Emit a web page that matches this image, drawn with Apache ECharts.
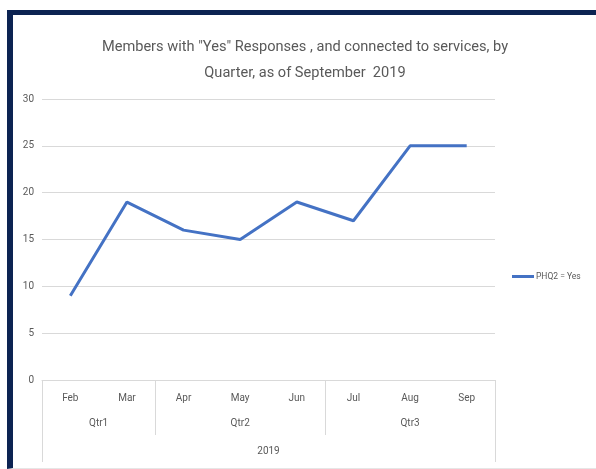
<!DOCTYPE html>
<html><head><meta charset="utf-8">
<script src="https://cdn.jsdelivr.net/npm/echarts@6/dist/echarts.min.js"></script>
<style>
html,body{margin:0;padding:0;background:#fff;}
#wrap{position:absolute;left:0;top:0;width:596px;height:469px;background:#fff;}
#frame{position:absolute;left:7px;top:10px;width:589px;height:459px;border-left:6px solid #0c2352;border-top:5px solid #0c2352;box-sizing:border-box;border-bottom:1px solid #e6e6e6;}
#c{position:absolute;left:0;top:0;width:596px;height:469px;}
</style></head>
<body><div id="wrap"><div id="frame"></div><div id="c"></div></div>
<script>
const months = ['Feb','Mar','Apr','May','Jun','Jul','Aug','Sep'];
const values = [9,19,16,15,19,17,25,25];
const quarters = ['Qtr1','Qtr2','Qtr3'];
const quarterSizes = [2,3,3];
const year = '2019';
const seriesName = 'PHQ2 = Yes';
const yTicks = [0,5,10,15,20,25,30];

// half-slot positions (boundaryGap false, 2*n+1 points)
const n = months.length;
const halfCats = Array.from({length: 2*n+1}, (_, i) => String(i));
const qLabelIdx = {}; const qDivIdx = new Set([0]);
let acc = 0;
quarters.forEach((q, k) => { qLabelIdx[acc + quarterSizes[k]] = q; acc += 2*quarterSizes[k]; qDivIdx.add(acc); });
const fontF = 'Roboto,sans-serif';
const gray = '#595959';
const chart = echarts.init(document.getElementById('c'), null, {renderer:'canvas'});
chart.setOption({
  backgroundColor: 'transparent',
  animation: false,
  title: {
    text: 'Members with "Yes" Responses , and connected to services, by\nQuarter, as of September  2019',
    left: 300, textAlign: 'center', top: 29,
    textStyle: {fontFamily: fontF, fontSize: 14.6, fontWeight: 'normal', color: gray, lineHeight: 26}
  },
  legend: {
    data: [seriesName], left: 507, top: 267, itemWidth: 22, itemHeight: 3, itemGap: 2,
    icon: 'rect',
    textStyle: {fontFamily: fontF, fontSize: 8.5, color: gray, padding: [0,0,0,-3]}
  },
  grid: {left: 42, right: 101, top: 99, bottom: 89, containLabel: false},
  xAxis: [
    {type: 'category', data: months, boundaryGap: true, position: 'bottom',
     axisLine: {lineStyle: {color: '#d9d9d9', width: 1}}, axisTick: {show: false},
     axisLabel: {color: gray, fontFamily: fontF, fontSize: 10, margin: 13}},
    {type: 'category', data: halfCats, boundaryGap: false, position: 'bottom',
     axisLine: {show: false},
     axisTick: {show: true, length: 55, interval: (i) => qDivIdx.has(i) && i !== 0 && i !== 2*n, lineStyle: {color: '#d9d9d9'}},
     axisLabel: {color: gray, fontFamily: fontF, fontSize: 10, margin: 38, interval: (i) => qLabelIdx[i] !== undefined, formatter: (v, i) => qLabelIdx[i] || ''}},
    {type: 'category', data: halfCats, boundaryGap: false, position: 'bottom',
     axisLine: {show: false},
     axisTick: {show: true, length: 82, interval: (i) => i === 0 || i === 2*n, lineStyle: {color: '#d9d9d9'}},
     axisLabel: {color: gray, fontFamily: fontF, fontSize: 10, margin: 66, interval: (i) => i === n, formatter: (v, i) => i === n ? year : ''}}
  ],
  yAxis: {
    type: 'value', min: yTicks[0], max: yTicks[yTicks.length-1], interval: 5,
    axisLine: {show: false}, axisTick: {show: false},
    splitLine: {lineStyle: {color: '#d9d9d9', width: 1}},
    axisLabel: {color: gray, fontFamily: fontF, fontSize: 10, margin: 8}
  },
  series: [{
    name: seriesName, type: 'line', data: values, xAxisIndex: 0,
    symbol: 'none', lineStyle: {color: '#4472c4', width: 3}, itemStyle: {color: '#4472c4'}
  }]
});
</script></body></html>
